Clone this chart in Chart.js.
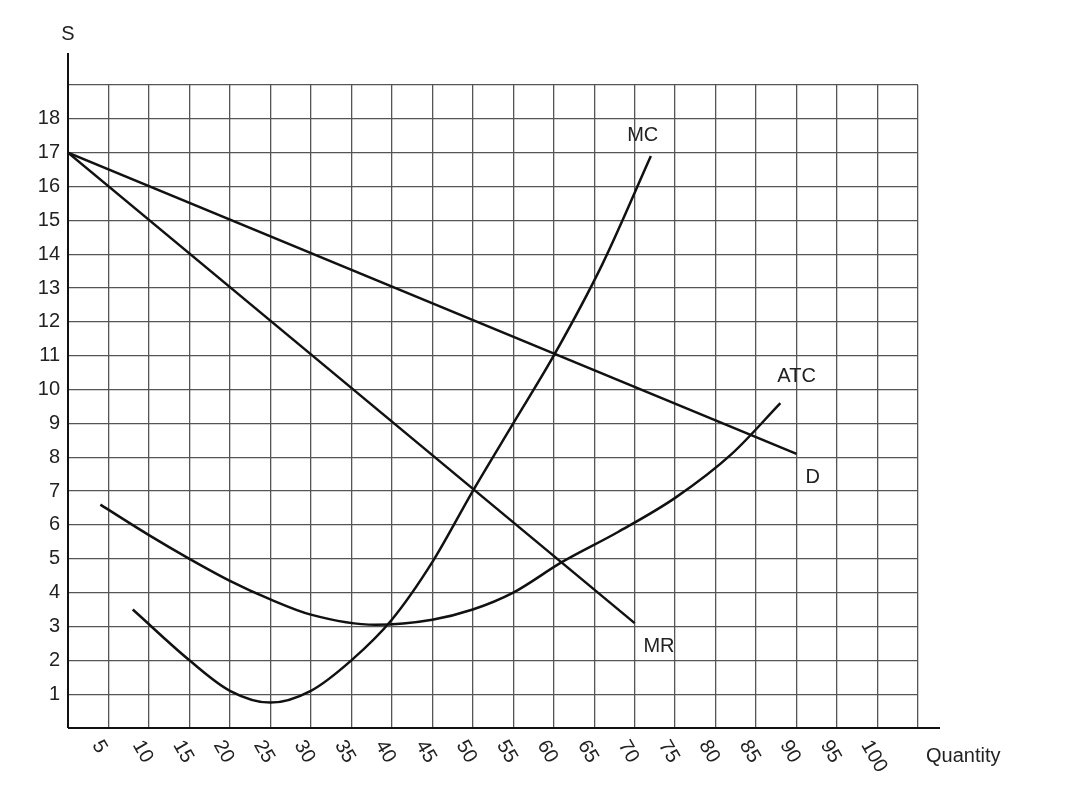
<!DOCTYPE html>
<html><head><meta charset="utf-8">
<script src="https://cdn.jsdelivr.net/npm/chart.js@4"></script>
<style>html,body{margin:0;background:#fff}#w{width:1066px;height:792px}</style>
</head><body><div id="w"><canvas id="c"></canvas></div>
<script>
const xTicks=[5,10,15,20,25,30,35,40,45,50,55,60,65,70,75,80,85,90,95,100];
const yTicks=[1,2,3,4,5,6,7,8,9,10,11,12,13,14,15,16,17,18];
const dQ=[0,90], dP=[17,8.1];
const mrQ=[0,70], mrP=[17,3.1];
const mcQ=[8,15,20,25,30,35,40,45,50,55,60,66,72];
const mcP=[3.5,2,1.1,0.75,1.1,2,3.2,4.9,7,9,11,13.7,16.9];
const atcQ=[4,10,15,20,25,30,38,45,50,55,61,68,75,82,88];
const atcP=[6.6,5.7,5,4.35,3.8,3.35,3.05,3.2,3.5,4,4.9,5.8,6.8,8.1,9.6];
const labels=[["MC",71,17.5],["ATC",90,10.4],["D",92,7.4],["MR",73,2.4]];
const pts=(q,p)=>q.map((v,i)=>({x:v,y:p[i]}));
const ds=(q,p)=>({data:pts(q,p),showLine:true,borderColor:'#111',borderWidth:2.5,pointRadius:0,tension:0.4,cubicInterpolationMode:'monotone',fill:false});
const font='"Liberation Sans", Arial, sans-serif';
const deco={id:'deco',afterDraw(ch){
 const c=ch.ctx,x=ch.scales.x,y=ch.scales.y,a=ch.chartArea;
 c.save();c.strokeStyle='#111';c.lineWidth=2;
 c.beginPath();c.moveTo(a.left,a.bottom);c.lineTo(a.right+22,a.bottom);c.stroke();
 c.beginPath();c.moveTo(a.left,a.bottom);c.lineTo(a.left,a.top-32);c.stroke();
 c.fillStyle='#222';c.font='20px '+font;
 c.textAlign='center';c.fillText('S',a.left,a.top-45);
 c.textAlign='left';c.textBaseline='middle';c.fillText('Quantity',a.right+8,a.bottom+28);
 c.textAlign='center';
 labels.forEach(l=>c.fillText(l[0],x.getPixelForValue(l[1]),y.getPixelForValue(l[2])));
 c.textAlign='right';
 yTicks.forEach(v=>c.fillText(String(v),a.left-8,y.getPixelForValue(v)));
 c.textAlign='left';
 xTicks.forEach(v=>{c.save();c.translate(x.getPixelForValue(v)-12,a.bottom+14);c.rotate(Math.PI/3);c.fillText(String(v),0,0);c.restore();});
 c.restore();}};
new Chart(document.getElementById('c'),{type:'scatter',
 data:{datasets:[ds(dQ,dP),ds(mrQ,mrP),ds(mcQ,mcP),ds(atcQ,atcP)]},
 options:{responsive:true,maintainAspectRatio:false,animation:false,
  layout:{padding:{top:85,right:148,left:0,bottom:0}},
  plugins:{legend:{display:false},tooltip:{enabled:false}},
  scales:{
   x:{type:'linear',min:0,max:105,ticks:{stepSize:5,display:false},grid:{color:'#555',lineWidth:1.3,drawTicks:false},border:{display:false},afterFit:s=>{s.height=64;}},
   y:{type:'linear',min:0,max:19,ticks:{stepSize:1,display:false},grid:{color:'#555',lineWidth:1.3,drawTicks:false},border:{display:false},afterFit:s=>{s.width=68;}}
  }},plugins:[deco]});
</script></body></html>
